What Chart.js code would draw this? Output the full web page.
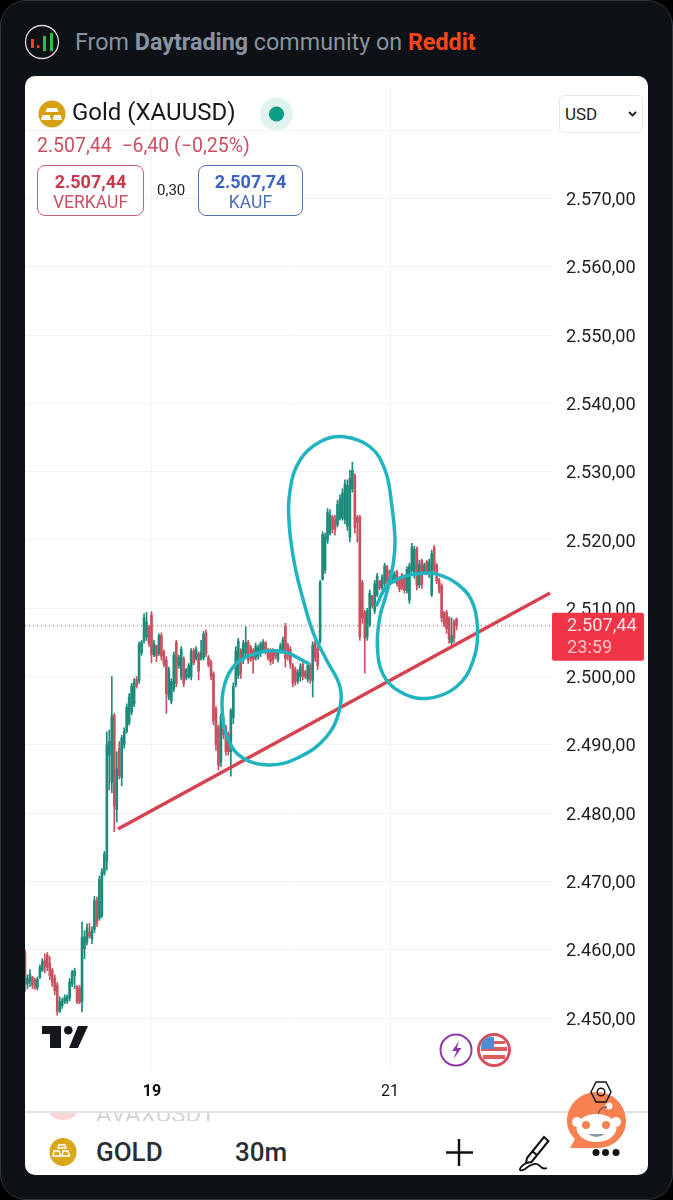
<!DOCTYPE html>
<html>
<head>
<meta charset="utf-8">
<title>Gold (XAUUSD)</title>
<script src="https://cdn.jsdelivr.net/npm/chart.js@4"></script>
<style>
  html, body { margin: 0; padding: 0; background: #000; }
  body { width: 673px; height: 1200px; position: relative; overflow: hidden; font-family: Roboto, sans-serif; }
  .abs { position: absolute; white-space: nowrap; }
  #frame { left: 0; top: 0; width: 671px; height: 1198px; background: #0e1216; border: 1px solid #31363b; border-radius: 26px; }
  #card { left: 25px; top: 76px; width: 623px; height: 1099px; background: #fff; border-radius: 10px; }
  #chart { position: absolute; left: 25px; top: 88px; }
  #from { left: 75px; top: 28px; font-size: 23.3px; color: #87949f; }
  #from b { font-weight: 700; }
  #from .rd { color: #f4471c; }
  #title { left: 72px; top: 98px; font-size: 24px; color: #15171c; }
  #change { left: 37px; top: 134px; font-size: 19.5px; color: #c8505f; }
  .box { top: 165px; height: 49px; border-radius: 8px; border: 1px solid; text-align: center; background: #fff; }
  .box b { display: block; font-size: 18px; margin-top: 6px; line-height: 20px; }
  .box span { display: block; font-size: 17.500px; line-height: 20px; }
  #sell { left: 37px; width: 105px; border-color: #c9606e; color: #c8394c; }
  #sell span { color: #c65262; }
  #buy { left: 198px; width: 103px; border-color: #4f73a8; color: #3a63c4; }
  #buy span { color: #4a6fb0; }
  #spread { left: 157px; top: 181px; font-size: 15px; color: #222; }
  #usd { left: 559px; top: 95px; width: 82px; height: 36px; border: 1px solid #e8e8e8; border-radius: 5px; background: #fff; font-size: 17px; color: #222; line-height: 36px; }
  #usd span { margin-left: 5px; }
  #sep { left: 25px; top: 1111px; width: 623px; height: 2px; background: #e2e2e2; }
  #avaxclip { left: 25px; top: 1113px; width: 300px; height: 8px; overflow: hidden; }
  #avax { position: absolute; left: 71px; top: -13px; font-size: 24px; color: #d4d4d4; }
  #gold { left: 96px; top: 1137px; font-size: 26px; font-weight: 500; color: #2a2d33; }
  #tf { left: 235px; top: 1137px; font-size: 26px; font-weight: 500; color: #2a2d33; }
  svg.abs { left: 0; top: 0; }
</style>
</head>
<body>
<div id="frame" class="abs"></div>
<div id="card" class="abs"></div>
<canvas id="chart" width="623" height="1024"></canvas>

<div id="from" class="abs">From <b>Daytrading</b> community on <b class="rd">Reddit</b></div>
<div id="title" class="abs">Gold (XAUUSD)</div>
<div id="change" class="abs">2.507,44&nbsp; −6,40 (−0,25%)</div>
<div id="sell" class="abs box"><b>2.507,44</b><span>VERKAUF</span></div>
<div id="spread" class="abs">0,30</div>
<div id="buy" class="abs box"><b>2.507,74</b><span>KAUF</span></div>
<div id="usd" class="abs"><span>USD</span></div>
<div id="sep" class="abs"></div>
<div id="avaxclip" class="abs"><div id="avax">AVAXUSDT</div></div>
<div id="gold" class="abs">GOLD</div>
<div id="tf" class="abs">30m</div>

<svg class="abs" width="673" height="1200" viewBox="0 0 673 1200" style="pointer-events:none">
  <!-- header logo -->
  <circle cx="42" cy="42" r="16.5" fill="#0e1216" stroke="#d9d9d9" stroke-width="1.3"/>
  <rect x="31" y="39" width="3" height="9" fill="#e8402f"/>
  <rect x="37" y="45" width="2.4" height="3" fill="#e8402f"/>
  <rect x="43" y="36" width="3" height="15" fill="#25c24a"/>
  <rect x="50" y="33" width="3" height="18" fill="#25c24a"/>
  <!-- gold coin -->
  <circle cx="52" cy="114" r="13.5" fill="#d6a012"/>
  <path d="M47 108h10l1.5 4h-13zM41 120l1.5-5h7l1.5 5zM52.5 120l1.5-5h6.5l1.5 5z" fill="#fff"/>
  <!-- market open dot -->
  <circle cx="276.5" cy="114" r="16.5" fill="#e1f3ef"/>
  <circle cx="276.5" cy="114" r="7.5" fill="#0c9b84"/>
  <!-- select chevron -->
  <path d="M629 112l3.5 3.5 3.5-3.5" fill="none" stroke="#222" stroke-width="1.8"/>
  <!-- TradingView logo -->
  <path d="M42 1026h19v22h-11v-14h-8zM78 1026h10l-10 22h-9z" fill="#14171c"/>
  <circle cx="68.3" cy="1030.3" r="4.3" fill="#14171c"/>
  <!-- event badges -->
  <circle cx="456" cy="1050" r="15.5" fill="#fff" stroke="#8d3aa6" stroke-width="2"/>
  <path d="M459 1041l-7 10h4.5l-3 8 8-11h-4.5z" fill="#8d3aa6"/>
  <circle cx="494" cy="1050" r="15.5" fill="#fff" stroke="#d4505e" stroke-width="3"/>
  <path d="M483 1041h22v3h-22zM481 1047h26v4h-26zM483 1055h22v4h-22z" fill="#dd5c5c"/>
  <path d="M483 1040a14 14 0 0 1 11-3v12h-13a14 14 0 0 1 2-9z" fill="#4d8fd6"/>
  <!-- bottom bar coin -->
  <ellipse cx="63" cy="1152" rx="13.5" ry="14" fill="#d9a61c"/>
  <path d="M59 1145h6l1 3h-8zM53 1156l1-5h5l1.5 5zM62 1156l1-5h5l1.5 5z" fill="none" stroke="#fff" stroke-width="1.4"/>
  <!-- faded AVAX coin, clipped -->
  <path d="M50 1113h26a13 7 0 0 1-26 0z" fill="#f8d6d6"/>
  <!-- plus, pen, more -->
  <path d="M459 1139v27M446 1152.500h27" stroke="#111" stroke-width="2.4"/>
  <path d="M527 1158l17-21 4.500 4-17 21-5.500 1z M532 1151l5 4" fill="none" stroke="#111" stroke-width="2"/>
  <path d="M526 1163c-8 5-8 10-1 6 6-5 12-7 15-3 2 3 4 3 7 2" fill="none" stroke="#111" stroke-width="1.800"/>
  <circle cx="596" cy="1152.500" r="3.500" fill="#111"/>
  <circle cx="605.500" cy="1152.500" r="3.500" fill="#111"/>
  <circle cx="616" cy="1152.500" r="3.500" fill="#111"/>
  <!-- snoo bubble -->
  <path d="M597 1092c17 0 29 14 29 29 0 16-13 27-29 27h-27l5-9c-5-5-8-11-8-18 0-16 13-29 30-29z" fill="#f6804f"/>
  <path d="M591 1092l5-10h10l5 10-5 10h-10z" fill="none" stroke="#111" stroke-width="1.400"/>
  <circle cx="601" cy="1092" r="3.800" fill="none" stroke="#111" stroke-width="1.400"/>
  <circle cx="609" cy="1106" r="3.500" fill="#f2f2f2"/>
  <path d="M598 1117c0-6 3-10 9-10" fill="none" stroke="#7c5a4c" stroke-width="1.300"/>
  <circle cx="577" cy="1122" r="5" fill="#fff"/>
  <circle cx="616" cy="1122" r="5" fill="#fff"/>
  <ellipse cx="596.500" cy="1128" rx="20" ry="14" fill="#fff"/>
  <circle cx="586" cy="1125" r="4" fill="#f6804f"/>
  <circle cx="606" cy="1125" r="4" fill="#f6804f"/>
  <path d="M588 1134q8.500 6 17 0z" fill="#8d99a5"/>
</svg>

<script>
// 30 minute candles
const opens = [2459.5,2455,2455.4,2456,2455.6,2454.5,2455.9,2457,2458.4,2459.2,2458,2457,2455.8,2454.8,2451,2451.8,2452.4,2452.5,2452.9,2455,
  2456.2,2454.6,2454.4,2452.4,2460.2,2461.2,2462.6,2461.6,2463,2467.2,2464.6,2465,2471.2,2473,2488.5,2484.5,2494.3,2480.5,2489.5,2485.2,
  2490,2492,2493.2,2494.8,2496,2499.6,2499.4,2503.5,2505.2,2505.8,2507.2,2509,2503.2,2504.5,2503.4,2506,2503.6,2502.4,2497,2496.4,
  2498.2,2505,2501.6,2500,2502.6,2499.8,2500,2500,2503.8,2502.6,2503.3,2502.6,2502.8,2506.4,2502.8,2502.1,2500.4,2495.3,2492.6,2487.5,
  2494,2492.6,2491.6,2489,2494,2498.8,2500.2,2503.8,2502.4,2503.4,2505,2504.3,2503.8,2502.8,2503,2503.4,2504,2505,2504,2503.8,
  2503.6,2503.6,2502.5,2503.6,2503.9,2507.4,2504.6,2504,2501.6,2501,2499.4,2500,2501.8,2500.7,2499.6,2501.6,2499.4,2505,2504.1,2505.2,
  2514.3,2515.6,2520,2521,2523.3,2523,2522.2,2523.2,2523.2,2523,2522,2520.4,2527.5,2529.4,2523.3,2523.4,2513.8,2509.4,2505.8,2507.6,
  2511.8,2509.6,2512,2514,2513,2513.6,2516.1,2515.4,2513.8,2513.9,2515.3,2514.4,2514.9,2514.4,2512.6,2511.2,2515.6,2514.8,2518.7,2513.4,
  2517,2515.2,2516.8,2515,2512,2518.9,2516.3,2514.1,2513.3,2509.3,2509.4,2508.5,2505,2508,2508.4];
const highs = [2460,2456.3,2457.1,2456.1,2455.8,2456,2457.8,2458.7,2459.4,2459.6,2459,2457.3,2456.3,2455.2,2453.1,2452.9,2453.4,2453.4,2455.8,2457,
  2457.3,2454.8,2454.8,2464.1,2462.8,2463.8,2463.9,2463.4,2467.8,2467.7,2470.8,2471.9,2474.4,2491.9,2492.2,2500,2494.6,2489,2490.5,2491.4,
  2492.5,2496,2497.5,2499,2499.7,2500,2505.1,2505.3,2509.2,2509.4,2507.5,2509.5,2505.3,2504.6,2506.3,2506.4,2503.9,2502.9,2501.4,2499.7,
  2503.6,2505.3,2503.1,2504.4,2502.9,2501.2,2501.9,2504.1,2504.1,2504.4,2503.6,2505.3,2506.6,2506.8,2503.1,2502.4,2500.7,2495.6,2492.9,2494.6,
  2494.4,2492.9,2491.9,2495.3,2499.1,2504.4,2505.6,2504.1,2505.3,2507.3,2505.3,2504.6,2504.1,2504.9,2504.6,2505.1,2505.4,2505.1,2504.1,2504.1,
  2504.1,2503.9,2503.9,2504.9,2505.8,2507.8,2504.9,2504.4,2501.9,2501.4,2501,2501.9,2502.1,2500.9,2502.1,2501.9,2505.1,2505.3,2504.4,2514.1,
  2521.2,2521,2524.6,2524.4,2523.6,2523.6,2525.8,2526.6,2527.5,2528.8,2528.8,2530.2,2531.4,2529.7,2523.6,2523.6,2514.1,2509.7,2510,2512.7,
  2511.9,2514.1,2515.1,2514.1,2514.9,2516.6,2516.3,2515.6,2515.6,2515.4,2515.6,2514.6,2515.1,2514.6,2516.1,2516.6,2519.5,2519.1,2519,2517,
  2517.2,2516.6,2517,2517.2,2518.5,2519.2,2516.6,2514.4,2513.6,2509.5,2509.7,2508.8,2508.6,2508.3,2508.6];
const lows = [2453.9,2454.3,2454.6,2454.3,2454.2,2454.1,2455.8,2456.8,2456.6,2456.9,2455.6,2454.6,2453.4,2450.4,2450.8,2451.4,2452.1,2452.1,2452.5,2454.6,
  2454.3,2452.1,2452.1,2450.9,2458.7,2460.7,2461.7,2460.9,2462.5,2463.4,2464.3,2464.7,2470.9,2471.7,2483.4,2483,2477.3,2478.7,2485,2484,
  2489.5,2491.7,2492.9,2494.4,2495.6,2498.3,2499,2503.1,2504.9,2505.3,2504.4,2502,2502.9,2502.2,2503.1,2502.4,2501.4,2494.6,2496.6,2496,
  2497.8,2498.5,2501.2,2499.5,2498.5,2499.5,2499.7,2499.5,2501.7,2502.4,2499.5,2502.4,2502.4,2502.9,2501.4,2499.5,2492.9,2489.2,2486.3,2486.8,
  2490.9,2488.5,2488.5,2485.4,2493.1,2498.5,2499.7,2499.7,2501.9,2502.9,2501.9,2502.2,2500.5,2502.4,2502.5,2502.9,2503.6,2503.3,2502.4,2501.7,
  2501.9,2502.6,2502.1,2503.4,2503.4,2501.4,2502.4,2501.2,2498.5,2498.7,2499,2499.3,2499.5,2499.7,2499.2,2499,2497,2502.2,2501,2504.9,
  2514.1,2515.1,2519.5,2520.7,2521,2520.7,2521.9,2522.9,2522.9,2522.4,2521.4,2519.7,2527,2521,2519.7,2505.3,2507.8,2500.5,2505.3,2507.3,
  2510,2509.2,2511.7,2512.7,2512.7,2513.2,2513.4,2513.4,2513.6,2513.7,2513.2,2512.4,2512.7,2512.2,2512.2,2510.7,2515.3,2514.4,2512.7,2513,
  2512.9,2515.1,2514.9,2514.5,2511.7,2515.1,2513.6,2512.2,2508,2507.3,2506.3,2504.9,2504.4,2505,2506.8];
const closes = [2454.8,2455.8,2456.4,2454.8,2454.4,2455.7,2457.4,2458.3,2457.6,2457.4,2456.2,2455.2,2454,2451,2452.4,2452.5,2453,2453.1,2455.3,2456.7,
  2456.9,2452.4,2452.3,2461.8,2461.9,2463.2,2462,2462.9,2467.2,2464,2470.3,2471.4,2474,2490,2490.5,2494.2,2481,2486.5,2485.5,2491,
  2492,2495.5,2497,2498.6,2499.2,2498.6,2504.7,2505,2508.6,2508,2504.8,2503.2,2504.8,2503,2506,2503,2501.8,2497.5,2501,2499.3,
  2503.2,2499,2502.8,2504,2499,2501,2501.6,2503.7,2502,2504,2500.8,2503.6,2506.2,2503.4,2501.7,2500,2493.5,2490,2487,2494.2,
  2491.5,2489,2489,2495,2498.6,2503.8,2505.2,2500.5,2504.8,2505,2502.4,2502.6,2502.5,2504.4,2504.2,2504.8,2505,2503.6,2502.8,2502.2,
  2502.4,2503,2503.4,2504.5,2505.4,2502.6,2503,2501.8,2499,2499.2,2500.6,2501.4,2500,2500,2501.6,2499.6,2504.6,2502.8,2501.6,2513.8,
  2520.8,2520.4,2524,2523.6,2521.6,2521.5,2525.2,2526,2526.9,2528.2,2528,2529,2530.2,2521.8,2522.6,2505.8,2508.6,2505.6,2509.6,2512.2,
  2510.4,2513.6,2514.7,2513,2514.5,2516.2,2513.9,2513.9,2515.2,2515,2513.6,2512.8,2513,2512.6,2515.7,2516.2,2519,2518.6,2513.4,2516.4,
  2513.5,2516.3,2515.3,2516.8,2518,2515.6,2514,2512.6,2508.6,2507.7,2507,2505.5,2506,2505.6,2507.44];

const priceTicks = [2450,2460,2470,2480,2490,2500,2510,2520,2530,2540,2550,2560,2570,2580];
const hiddenTicks = [2580]; // sits under the currency select
const dayTicks = [51.2, 147.2];
const dayLabels = ['19', '21'];
const lastPrice = 2507.44;
const lastPriceLabel = '2.507,44';
const countdownLabel = '23:59';

// trend line and the hand drawn stroke, in candle index / price
const trendX = [37.5, 211.7];
const trendY = [2477.67, 2512.23];
const strokeX = [141.8,145.8,152.6,159.3,166,174,180,182.4,180.8,174,162,151.2,144.5,142.1,143.1,145.8,148.5,149.2,147.8,145.2,139.1,128.4,119,110.9,106.9,106.6,108.9,112.2,116.3,121.6,127,126.8,121.6,110.9,98.8,88,82,79.6,80.6,85.3,93.4,104.2,114.2];
const strokeY = [2510.47,2513.15,2514.62,2515.1,2515,2513.64,2511.2,2507.3,2502.42,2498.51,2496.8,2497.78,2500.22,2504.37,2508.76,2512.18,2516.57,2519.99,2525.35,2530.23,2533.65,2535.11,2534.38,2531.7,2527.31,2521.94,2516.08,2511.2,2506.32,2502.42,2498.51,2495.1,2491.19,2488.26,2487.04,2488.02,2490.7,2494.61,2499,2501.93,2503.39,2503.64,2501.93];

const UP = '#1c8b7b';
const DOWN = '#c9505f';
const FONT = 'Roboto, sans-serif';

const candleColors = closes.map((c, i) => c >= opens[i] ? UP : DOWN);
const fmtPrice = v => v.toLocaleString('de-DE', { minimumFractionDigits: 2, maximumFractionDigits: 2 });

const priceTag = {
  id: 'priceTag',
  afterDraw(chart) {
    const ctx = chart.ctx;
    const y = chart.scales.y.getPixelForValue(lastPrice);
    const x = chart.chartArea.right;
    ctx.save();
    ctx.fillStyle = '#f23447';
    ctx.beginPath();
    ctx.roundRect(x, y - 13, 92, 48, 2);
    ctx.fill();
    ctx.fillStyle = '#fde3e5';
    ctx.textBaseline = 'middle';
    ctx.font = '18.2px ' + FONT;
    ctx.fillText(lastPriceLabel, x + 15, y + 1);
    ctx.fillStyle = '#fbc4c8';
    ctx.fillText(countdownLabel, x + 15, y + 23);
    ctx.restore();
  }
};

new Chart(document.getElementById('chart').getContext('2d'), {
  type: 'bar',
  plugins: [priceTag],
  data: {
    datasets: [
      {
        type: 'line',
        data: strokeX.map((x, i) => ({ x: x, y: strokeY[i] })),
        borderColor: '#20b4c0',
        borderWidth: 3.5,
        borderCapStyle: 'round',
        tension: 0.4,
        pointRadius: 0,
        order: 1
      },
      {
        type: 'line',
        data: trendX.map((x, i) => ({ x: x, y: trendY[i] })),
        borderColor: '#d6424f',
        borderWidth: 3.5,
        pointRadius: 0,
        order: 2
      },
      {
        data: closes.map((c, i) => ({ x: i, y: [opens[i], c] })),
        backgroundColor: candleColors,
        barThickness: 2,
        grouped: false,
        order: 3
      },
      {
        data: highs.map((h, i) => ({ x: i, y: [lows[i], h] })),
        backgroundColor: candleColors,
        barThickness: 1,
        grouped: false,
        order: 4
      },
      {
        type: 'line',
        data: [{ x: 0, y: lastPrice }, { x: 212.5, y: lastPrice }],
        borderColor: '#a8525c',
        borderWidth: 1,
        borderDash: [1, 3],
        pointRadius: 0,
        order: 5
      }
    ]
  },
  options: {
    responsive: false,
    animation: false,
    layout: { padding: 0 },
    plugins: { legend: { display: false }, tooltip: { enabled: false } },
    scales: {
      x: {
        type: 'linear',
        min: 0,
        max: 212.5,
        offset: false,
        afterBuildTicks: s => { s.ticks = dayTicks.map(v => ({ value: v })); },
        afterFit: s => { s.height = 42; s.paddingLeft = 0; s.paddingRight = 0; },
        border: { display: false },
        grid: { color: '#f2f3f5', drawTicks: false, offset: false },
        ticks: {
          autoSkip: false,
          maxRotation: 0,
          padding: 12,
          color: '#111',
          font: c => ({ family: FONT, size: 16, weight: c.tick && c.tick.value === dayTicks[0] ? 'bold' : 'normal' }),
          callback: v => dayLabels[dayTicks.indexOf(v)]
        }
      },
      y: {
        position: 'right',
        min: 2442.39,
        max: 2586.18,
        afterBuildTicks: s => { s.ticks = priceTicks.map(v => ({ value: v })); },
        afterFit: s => { s.width = 96; s.paddingTop = 0; s.paddingBottom = 0; },
        border: { display: false },
        grid: { color: '#f2f3f5', drawTicks: false },
        ticks: {
          autoSkip: false,
          padding: 14,
          labelOffset: 2,
          color: '#1c1e22',
          font: { family: FONT, size: 18.2 },
          callback: v => hiddenTicks.includes(v) ? '' : fmtPrice(v)
        }
      }
    }
  }
});
</script>
</body>
</html>
